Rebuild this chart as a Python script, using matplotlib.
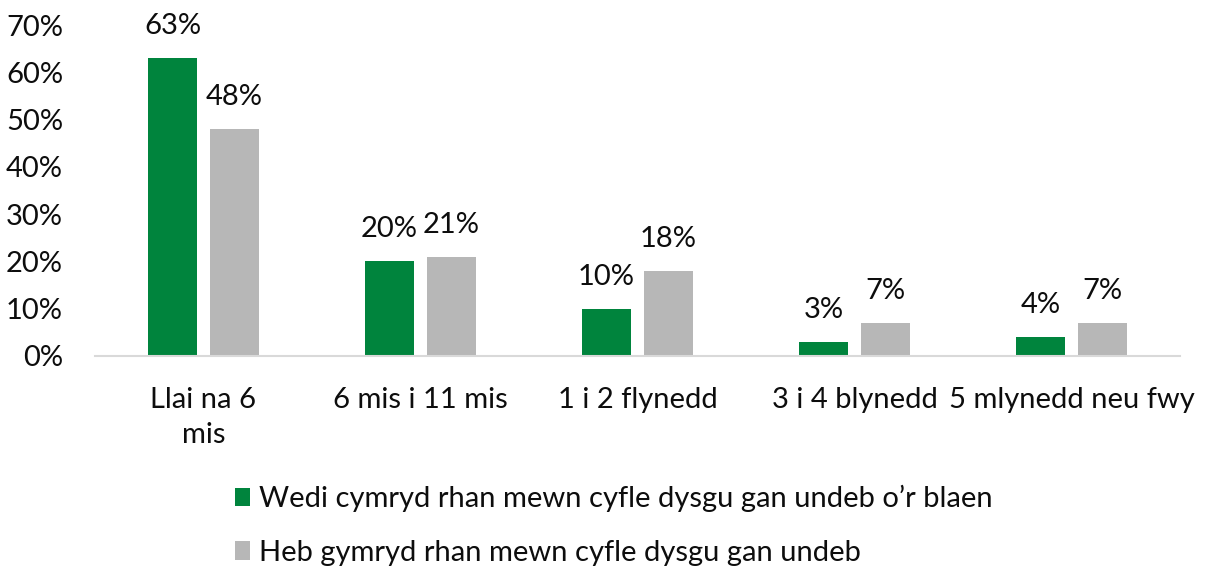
"""
Bar chart: length of time (Welsh labels), two groups.
"""
import numpy as np
import matplotlib.pyplot as plt
from matplotlib.patches import Patch

# ---------------------------------------------------------------------------
# Data
# ---------------------------------------------------------------------------
categories = ["Llai na 6\nmis", "6 mis i 11 mis", "1 i 2 flynedd",
              "3 i 4 blynedd", "5 mlynedd neu fwy"]
wedi = [63, 20, 10, 3, 4]
heb = [48, 21, 18, 7, 7]
series_names = ["Wedi cymryd rhan mewn cyfle dysgu gan undeb o\u2019r blaen",
                "Heb gymryd rhan mewn cyfle dysgu gan undeb"]
yticks = [0, 10, 20, 30, 40, 50, 60, 70]

GREEN = "#00843D"
GREY = "#B7B7B7"
TXT = "#0D0D0D"
FONT = "Lato"
FS = 21

plt.rcParams["font.family"] = [FONT, "DejaVu Sans"]

fig = plt.figure(figsize=(12.24, 5.71), dpi=100)
ax = fig.add_axes([95 / 1224, 1 - 356 / 571, 1085 / 1224, 331 / 571])

x = np.arange(len(categories))
w = 0.226
off = 0.143
b1 = ax.bar(x - off, wedi, w, color=GREEN)
b2 = ax.bar(x + off, heb, w, color=GREY)

for bars, vals in ((b1, wedi), (b2, heb)):
    for bar, v in zip(bars, vals):
        ax.annotate(f"{v}%", (bar.get_x() + bar.get_width() / 2, v),
                    xytext=(0, 23), textcoords="offset points",
                    ha="center", va="center", fontsize=FS, color=TXT)

ax.set_xlim(-0.5, len(categories) - 0.5)
ax.set_ylim(0, 70)
ax.set_yticks(yticks)
ax.set_yticklabels([f"{t}%" for t in yticks])
ax.set_xticks(x)
ax.set_xticklabels(categories, linespacing=1.45)
ax.tick_params(axis="y", length=0, pad=23, labelsize=FS, labelcolor=TXT)
ax.tick_params(axis="x", length=0, pad=22, labelsize=FS, labelcolor=TXT)

for s in ("top", "right", "left"):
    ax.spines[s].set_visible(False)
ax.spines["bottom"].set_color("#D9D9D9")
ax.spines["bottom"].set_linewidth(1.5)

handles = [Patch(facecolor=GREEN), Patch(facecolor=GREY)]
fig.legend(handles, series_names, loc="upper left",
           bbox_to_anchor=(235 / 1224, 1 - 485 / 571), frameon=False,
           fontsize=FS, handlelength=0.52, handleheight=0.62,
           handletextpad=0.3, labelspacing=0.94, borderpad=0,
           borderaxespad=0, labelcolor=TXT)

fig.savefig("out.png", dpi=100)
plt.close(fig)
